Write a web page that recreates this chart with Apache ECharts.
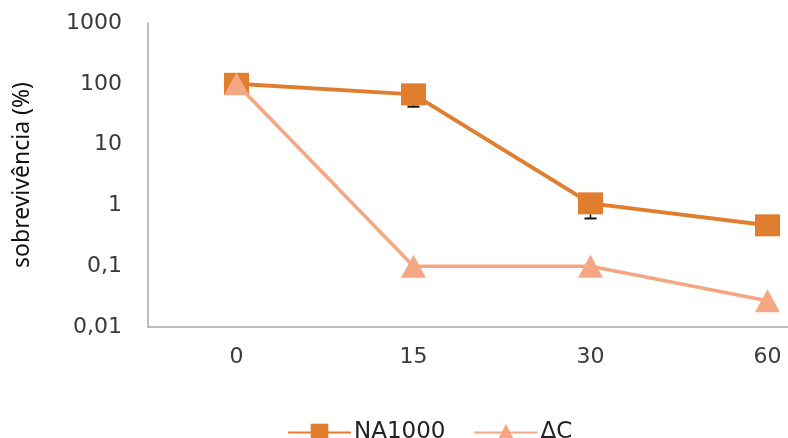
<!DOCTYPE html>
<html><head><meta charset="utf-8">
<script src="https://cdn.jsdelivr.net/npm/echarts@6/dist/echarts.min.js"></script>
<style>html,body{margin:0;padding:0;background:#fff}#c{width:788px;height:438px}</style>
</head><body><div id="c"></div>
<script>
const categories = ['0', '15', '30', '60'];
const na1000 = [100, 67, 1.08, 0.47];
const na1000Low = [null, 42, 0.61, null];
const deltaC = [100, 0.1, 0.1, 0.027];
const yTicks = [0.01, 0.1, 1, 10, 100, 1000];

const idx = categories.map((c, i) => i);
const chart = echarts.init(document.getElementById('c'));
const font = 'DejaVu Sans';
chart.setOption({
  animation: false,
  grid: { left: 148, right: 0, top: 23, bottom: 111 },
  legend: {
    top: 416, left: 282, itemWidth: 63, itemHeight: 22, itemGap: 28,
    textStyle: { fontFamily: font, fontSize: 23, color: '#222', padding: [0, 0, 0, -2] },
    data: ['NA1000', 'ΔC']
  },
  xAxis: {
    type: 'value', min: -0.5, max: -0.5 + 640 / 177,
    axisLine: { onZero: false, lineStyle: { color: '#a8a8a8', width: 1.5 } },
    axisTick: { show: false },
    splitLine: { show: false },
    axisLabel: {
      customValues: idx, fontFamily: font, fontSize: 22, color: '#3a3a3a', margin: 19,
      formatter: v => categories[Math.round(v)] ?? ''
    }
  },
  yAxis: {
    type: 'log', logBase: 10, min: 0.01, max: 1000,
    name: 'sobrevivência (%)', nameLocation: 'middle', nameGap: 114, nameRotate: 90,
    nameTextStyle: { fontFamily: 'Noto Sans', fontSize: 23, color: '#111' },
    axisLine: { show: true, onZero: false, lineStyle: { color: '#a8a8a8', width: 1.5 } },
    axisTick: { show: false },
    splitLine: { show: false },
    axisLabel: {
      fontFamily: font, fontSize: 22, color: '#3a3a3a', margin: 26,
      formatter: v => String(v).replace('.', ',')
    }
  },
  series: [
    {
      name: 'NA1000', type: 'line', data: idx.map(i => [i, na1000[i]]), z: 2,
      symbol: 'rect', symbolSize: [25, 22],
      lineStyle: { color: '#E07D2E', width: 4 },
      itemStyle: { color: '#E07D2E' }
    },
    {
      name: 'errors', type: 'custom', z: 3,
      data: idx.map(i => [i, na1000[i], na1000Low[i]]).filter(d => d[2] != null),
      renderItem: (params, api) => {
        const top = api.coord([api.value(0), api.value(1)]);
        const bot = api.coord([api.value(0), api.value(2)]);
        return { type: 'group', children: [
          { type: 'line', shape: { x1: top[0], y1: top[1] + 11, x2: bot[0], y2: bot[1] }, style: { stroke: '#111', lineWidth: 1.5 } },
          { type: 'line', shape: { x1: bot[0] - 6, y1: bot[1], x2: bot[0] + 6, y2: bot[1] }, style: { stroke: '#111', lineWidth: 2 } }
        ]};
      },
      silent: true
    },
    {
      name: 'ΔC', type: 'line', data: idx.map(i => [i, deltaC[i]]), z: 4,
      symbol: 'triangle', symbolSize: [25, 23],
      lineStyle: { color: '#F5A783', width: 3.5 },
      itemStyle: { color: '#F5A783' }
    }
  ]
});
</script></body></html>
